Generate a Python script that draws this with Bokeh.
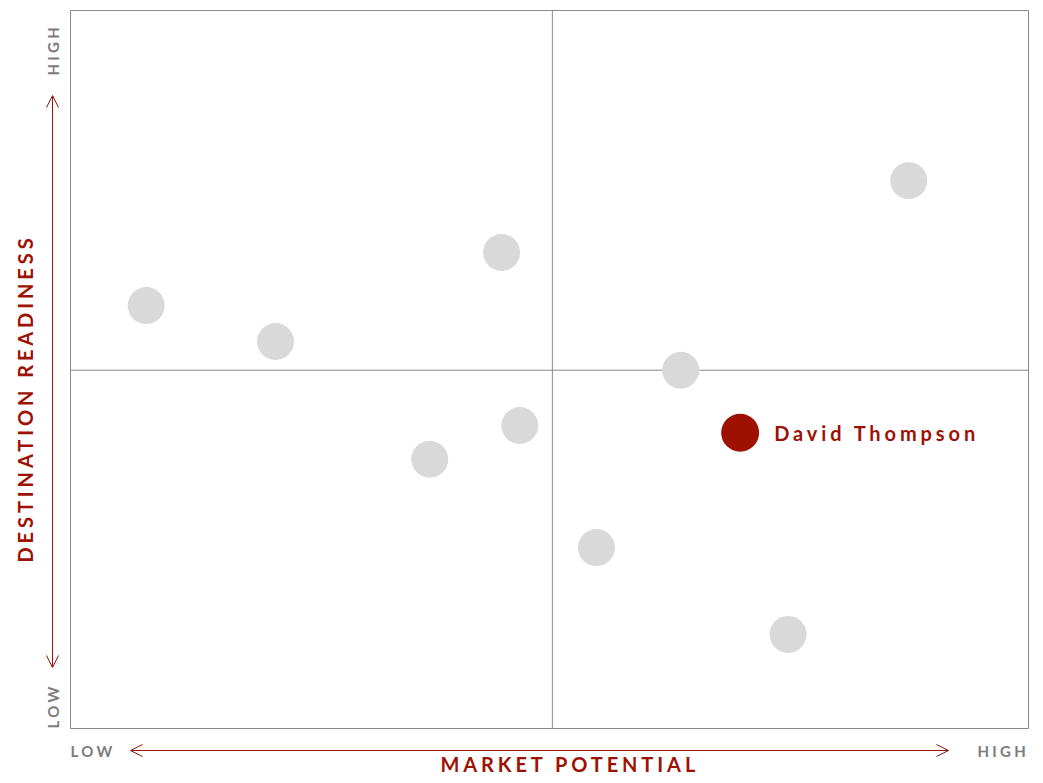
import math
from bokeh.plotting import figure
from bokeh.models import Label, Arrow, OpenHead, Range1d
from bokeh.embed import file_html
from bokeh.resources import INLINE

# data
others_x = [0.79, 2.14, 4.50, 3.75, 4.69, 6.37, 5.49, 7.49, 8.75]
others_y = [5.89, 5.39, 6.63, 3.75, 4.22, 4.99, 2.52, 1.31, 7.63]
focus_name = "David Thompson"
focus_x = [6.99]
focus_y = [4.12]
x_title = "MARKET POTENTIAL"
y_title = "DESTINATION READINESS"
low_label = "LOW"
high_label = "HIGH"
x_lo, x_hi, x_mid = 0, 10, 5.03
y_lo, y_hi, y_mid = 0, 10, 4.99

RED = "#9c1204"
GRAY_TXT = "#7c7c7c"
LINE_GRAY = "#8a8a8a"
FONT = "Lato"

W, H = 1035, 775
# frame occupies whole canvas; the visible box is drawn as data lines
PXX = 95.8
PXY = 71.8
x0 = -70 / PXX
y1 = 728 / PXY
p = figure(width=W, height=H, output_backend="svg", toolbar_location=None,
           x_range=Range1d(x0, x0 + W / PXX), y_range=Range1d(y1 - H / PXY, y1),
           x_axis_location=None, y_axis_location=None, min_border=0)
p.xgrid.visible = False
p.ygrid.visible = False
p.outline_line_color = None
p.background_fill_color = "white"
p.border_fill_color = "white"

# box and midlines
p.quad(left=[x_lo], right=[x_hi], bottom=[y_lo], top=[y_hi], fill_color=None,
       line_color=LINE_GRAY, line_width=1)
p.segment(x0=[x_mid, x_lo], y0=[y_lo, y_mid], x1=[x_mid, x_hi], y1=[y_hi, y_mid],
          line_color=LINE_GRAY, line_width=1)

p.scatter(others_x, others_y, size=37, fill_color="#d9d9d9", line_color=None)
p.scatter(focus_x, focus_y, size=38, fill_color="#9e1000", line_color=None)

p.add_layout(Label(x=focus_x[0], y=focus_y[0], text=focus_name, x_offset=34,
                   text_baseline="middle", text_align="left", text_font=FONT,
                   text_font_size="20px", text_font_style="bold", text_color=RED))

# arrows
ay = -22 / PXY
ax = -18 / PXX
p.add_layout(Arrow(x_start=60 / PXX, y_start=ay, x_end=878 / PXX, y_end=ay,
                   line_color=RED, line_width=1,
                   start=OpenHead(size=12, line_color=RED, line_width=1),
                   end=OpenHead(size=12, line_color=RED, line_width=1)))
p.add_layout(Arrow(x_start=ax, y_start=61 / PXY, x_end=ax, y_end=633 / PXY,
                   line_color=RED, line_width=1,
                   start=OpenHead(size=12, line_color=RED, line_width=1),
                   end=OpenHead(size=12, line_color=RED, line_width=1)))

# axis titles
p.add_layout(Label(x=370 / PXX, y=-35 / PXY, text=x_title, text_align="left", text_baseline="middle",
                   text_font=FONT, text_font_size="20px", text_font_style="bold", text_color=RED))
p.add_layout(Label(x=-46 / PXX, y=166 / PXY, text=y_title, angle=math.pi / 2, text_align="left",
                   text_baseline="middle", text_font=FONT, text_font_size="20px",
                   text_font_style="bold", text_color=RED))

# low/high labels
p.add_layout(Label(x=x_lo, y=ay, text=low_label, text_align="left", text_baseline="middle",
                   text_font=FONT, text_font_size="15px", text_font_style="bold", text_color=GRAY_TXT))
p.add_layout(Label(x=907 / PXX, y=ay, text=high_label, text_align="left", text_baseline="middle",
                   text_font=FONT, text_font_size="15px", text_font_style="bold", text_color=GRAY_TXT))
p.add_layout(Label(x=ax, y=y_lo, text=low_label, angle=math.pi / 2, text_align="left",
                   text_baseline="middle", text_font=FONT, text_font_size="15px",
                   text_font_style="bold", text_color=GRAY_TXT))
p.add_layout(Label(x=ax, y=653 / PXY, text=high_label, angle=math.pi / 2, text_align="left",
                   text_baseline="middle", text_font=FONT, text_font_size="15px",
                   text_font_style="bold", text_color=GRAY_TXT))

spacing_js = """
<script>
(function(){
  function walk(root){
    root.querySelectorAll('*').forEach(function(el){
      if (el.tagName && el.tagName.toLowerCase() === 'text') {
        var fs = el.getAttribute('font-size') || '';
        var px = parseFloat(fs);
        if (isNaN(px)) { px = parseFloat(window.getComputedStyle(el).fontSize); }
        el.style.letterSpacing = (px >= 18 ? '3.9px' : '3.3px');
      }
      if (el.shadowRoot) { walk(el.shadowRoot); }
    });
  }
  var n = 0;
  var t = setInterval(function(){ walk(document); n += 1; if (n > 100) { clearInterval(t); } }, 40);
})();
</script>
"""

html = file_html(p, INLINE)
html = html.replace("</body>", spacing_js + "</body>")
open("out.html", "w").write(html)
